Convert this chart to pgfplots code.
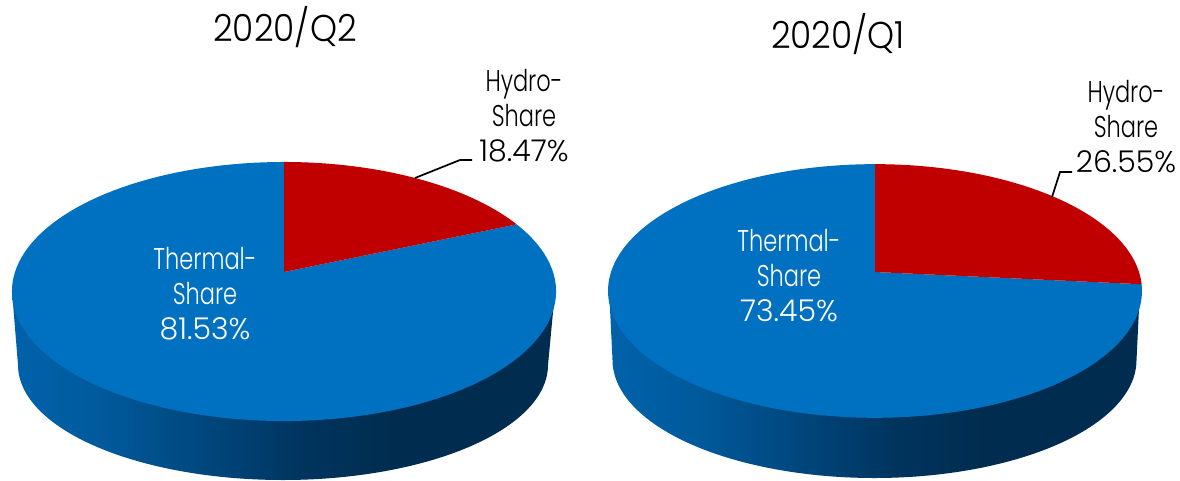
\documentclass[border=0pt]{standalone}
\usepackage{pgfplots}
\pgfplotsset{compat=1.18}
\usepackage{fontspec}
\setmainfont[FakeStretch=0.75]{Poppins Light}
\newfontfamily\numfont[FakeStretch=1.0]{Poppins Light}
\newfontfamily\titlefont[FakeStretch=0.92]{Poppins Light}

\definecolor{thermalblue}{HTML}{0070C0}
\definecolor{hydrored}{HTML}{C00000}

% Rim of the disc: the path's extent maps onto 25bp..75bp of the shading
\pgfdeclarehorizontalshading{rimshade}{100bp}{
  rgb(0bp)=(0,0.384,0.67);
  rgb(25bp)=(0,0.384,0.67);
  rgb(33bp)=(0,0.353,0.612);
  rgb(43bp)=(0,0.275,0.486);
  rgb(52bp)=(0,0.204,0.369);
  rgb(60bp)=(0,0.176,0.31);
  rgb(75bp)=(0,0.176,0.31);
  rgb(100bp)=(0,0.176,0.31)}

\tikzset{
  lab/.style={anchor=base, font=\fontsize{22.5pt}{25pt}\selectfont, inner sep=0pt},
  num/.style={anchor=base, font=\fontsize{22.5pt}{25pt}\numfont, inner sep=0pt},
  ttl/.style={anchor=base, font=\fontsize{28pt}{32pt}\titlefont, inner sep=0pt},
}

% Shares in percent
\def\hydroA{18.47}\def\thermalA{81.53}
\def\hydroB{26.55}\def\thermalB{73.45}

% Projected circle: #1 centre x, #2 centre y, #3 half width, #4 depth, #5 foreshortening
\newcommand{\discx}[5]{{#1+#3*sin(x)/(1+#5*cos(x))}}
\newcommand{\discy}[5]{{#2-#4*cos(x)/(1+#5*cos(x))}}

\begin{document}
\begin{tikzpicture}
\fill[white] (0,0) rectangle (885pt,360pt);
\begin{axis}[
  at={(0,0)}, anchor=south west,
  scale only axis, width=885pt, height=360pt,
  xmin=0, xmax=1180, ymin=0, ymax=480, y dir=reverse,
  hide axis,
  every axis plot/.append style={samples=121, forget plot},
]
% 2020/Q2: rim, then the two slices on top
\addplot[draw=none, shade, shading=rimshade, domain=270:90]
  ({283+265*sin(x)},{365-115*cos(x)}) -- (axis cs:555,291) -- (axis cs:12,291) -- cycle;
\pgfmathsetmacro{\aOne}{\hydroA*3.6}
\pgfmathsetmacro{\aTwo}{(\hydroA+\thermalA)*3.6}
\addplot[draw=none, fill=thermalblue, domain=\aOne:\aTwo]
  (\discx{284}{272}{269}{126.6}{0.1506},\discy{284}{272}{269}{126.6}{0.1506}) -- (axis cs:284,272) -- cycle;
\addplot[draw=none, fill=hydrored, domain=0:\aOne]
  (\discx{284}{272}{269}{126.6}{0.1506},\discy{284}{272}{269}{126.6}{0.1506}) -- (axis cs:284,272) -- cycle;
\addplot[black, line width=1.3pt] coordinates {(415,178) (460,160) (472,160)};

% 2020/Q1
\addplot[draw=none, shade, shading=rimshade, domain=270:90]
  ({874.5+262*sin(x)},{360-118*cos(x)}) -- (axis cs:1140,288) -- (axis cs:609,288) -- cycle;
\pgfmathsetmacro{\bOne}{\hydroB*3.6}
\pgfmathsetmacro{\bTwo}{(\hydroB+\thermalB)*3.6}
\addplot[draw=none, fill=thermalblue, domain=\bOne:\bTwo]
  (\discx{875}{272}{264}{124}{0.1496},\discy{875}{272}{264}{124}{0.1496}) -- (axis cs:875,272) -- cycle;
\addplot[draw=none, fill=hydrored, domain=0:\bOne]
  (\discx{875}{272}{264}{124}{0.1496},\discy{875}{272}{264}{124}{0.1496}) -- (axis cs:875,272) -- cycle;
\addplot[black, line width=1.3pt] coordinates {(1052,197) (1060,172) (1072,172)};

% Titles
\node[ttl] at (axis cs:285,41) {2020/Q2};
\node[ttl] at (axis cs:838,48) {2020/Q1};

% Slice labels
\node[lab] at (axis cs:524,91) {Hydro-};
\node[lab] at (axis cs:524,126) {Share};
\node[num] at (axis cs:524,161) {\hydroA\%};
\node[lab, text=white] at (axis cs:205,269) {Thermal-};
\node[lab, text=white] at (axis cs:205,304) {Share};
\node[num, text=white] at (axis cs:205,339) {\thermalA\%};

\node[lab] at (axis cs:1126,102) {Hydro-};
\node[lab] at (axis cs:1126,137) {Share};
\node[num] at (axis cs:1126,172) {\hydroB\%};
\node[lab, text=white] at (axis cs:789,251) {Thermal-};
\node[lab, text=white] at (axis cs:789,286) {Share};
\node[num, text=white] at (axis cs:789,321) {\thermalB\%};
\end{axis}
\end{tikzpicture}
\end{document}
